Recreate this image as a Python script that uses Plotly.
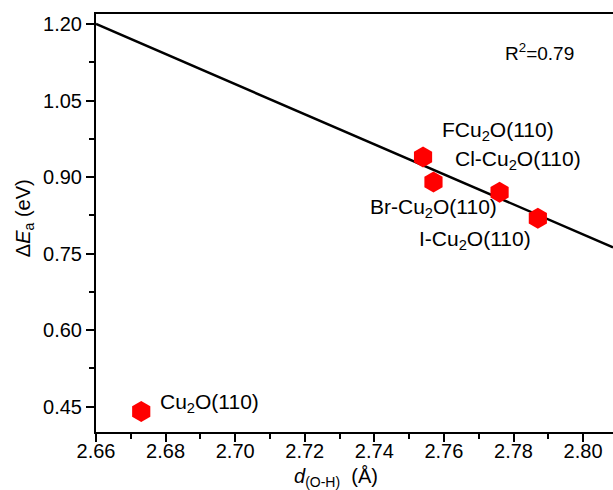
import plotly.graph_objects as go

# data
names = ["Cu<sub>2</sub>O(110)", "FCu<sub>2</sub>O(110)", "Br-Cu<sub>2</sub>O(110)",
         "Cl-Cu<sub>2</sub>O(110)", "I-Cu<sub>2</sub>O(110)"]
d_oh = [2.673, 2.754, 2.757, 2.776, 2.787]
dEa = [0.440, 0.939, 0.890, 0.870, 0.819]

fit_x = [2.66, 2.8086]
fit_y = [1.200, 0.762]

x_ticks = [2.66, 2.68, 2.70, 2.72, 2.74, 2.76, 2.78, 2.80]
y_ticks = [0.45, 0.60, 0.75, 0.90, 1.05, 1.20]

# label positions (data coords)
label_x = [2.6778, 2.7589, 2.7382, 2.7626, 2.7523]
label_y = [0.457, 0.990, 0.839, 0.933, 0.776]

FONT = "Liberation Sans, Arial, sans-serif"

fig = go.Figure()
fig.add_trace(go.Scatter(x=fit_x, y=fit_y, mode="lines",
                         line=dict(color="black", width=2.5), showlegend=False,
                         hoverinfo="skip"))
fig.add_trace(go.Scatter(x=d_oh, y=dEa, mode="markers",
                         marker=dict(symbol="hexagon", size=21, color="#ff0000",
                                     line=dict(width=0)),
                         showlegend=False))

for t, lx, ly in zip(names, label_x, label_y):
    fig.add_annotation(x=lx, y=ly, text=t, showarrow=False, xanchor="left",
                       yanchor="middle", font=dict(family=FONT, size=21, color="black"))

fig.add_annotation(x=2.777, y=1.145, text="R<sup>2</sup>=0.79", showarrow=False,
                   xanchor="left", yanchor="middle",
                   font=dict(family=FONT, size=19, color="black"))

# axis titles
fig.add_annotation(xref="paper", yref="paper", x=0.464, y=-0.110,
                   text="<i>d</i><sub>(O-H)</sub>  (Å)", showarrow=False,
                   xanchor="center", yanchor="middle",
                   font=dict(family=FONT, size=20, color="black"))
fig.add_annotation(xref="paper", yref="paper", x=-0.137, y=0.512,
                   text="Δ<i>E</i><sub>a</sub> (eV)", showarrow=False, textangle=-90,
                   xanchor="center", yanchor="middle",
                   font=dict(family=FONT, size=20, color="black"))

fig.update_layout(
    width=613, height=490,
    margin=dict(l=96, r=0, t=14, b=58, autoexpand=False),
    paper_bgcolor="white", plot_bgcolor="white",
    font=dict(family=FONT, size=20, color="black"),
)
fig.update_xaxes(range=[2.66, 2.8086], tickvals=x_ticks,
                 ticktext=[f"{v:.2f}" for v in x_ticks],
                 ticks="outside", ticklen=8, tickwidth=1.5, tickcolor="black",
                 ticklabelstandoff=-8,
                 minor=dict(dtick=0.01, tick0=2.66, ticks="outside", ticklen=5, tickwidth=1.5, tickcolor="black"),
                 showline=True, linecolor="black", linewidth=2, mirror=True,
                 showgrid=False, zeroline=False, automargin=False)
fig.update_yaxes(range=[0.4, 1.2196], tickvals=y_ticks,
                 ticktext=[f"{v:.2f}" for v in y_ticks],
                 ticks="outside", ticklen=8, tickwidth=1.5, tickcolor="black",
                 minor=dict(dtick=0.075, tick0=0.45, ticks="outside", ticklen=5, tickwidth=1.5, tickcolor="black"),
                 showline=True, linecolor="black", linewidth=2, mirror=False,
                 showgrid=False, zeroline=False, automargin=False)

fig.write_html("out.html", config={"displayModeBar": False},
               post_script="document.body.style.margin='0';document.body.style.overflow='hidden';")
